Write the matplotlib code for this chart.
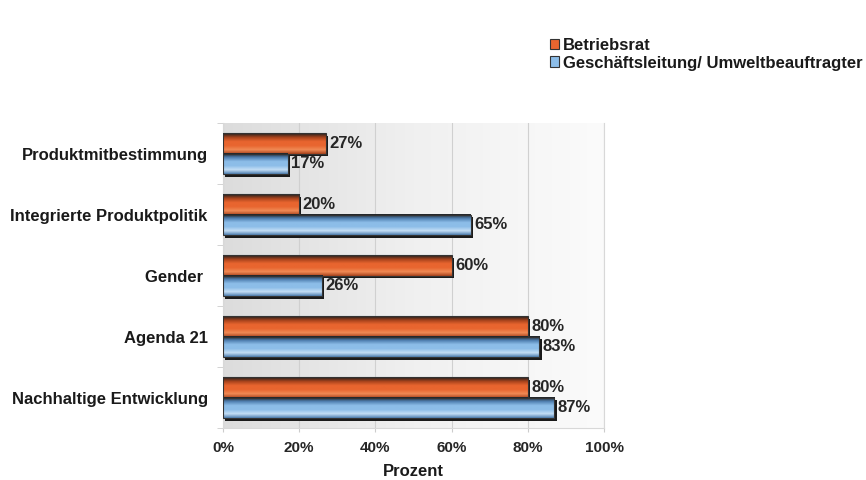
import numpy as np
import matplotlib.pyplot as plt
from matplotlib.patches import Patch
from matplotlib.colors import LinearSegmentedColormap

plt.rcParams['font.family'] = ['Liberation Sans', 'DejaVu Sans']
plt.rcParams['font.weight'] = 'bold'

categories = ['Produktmitbestimmung', 'Integrierte Produktpolitik', 'Gender ',
              'Agenda 21', 'Nachhaltige Entwicklung']
betriebsrat = [27, 20, 60, 80, 80]
geschaeftsleitung = [17, 65, 26, 83, 87]
series_names = ['Betriebsrat', 'Geschäftsleitung/ Umweltbeauftragter']
xticks = [0, 20, 40, 60, 80, 100]

orange = '#e8652f'
blue = '#8cbde8'

fig = plt.figure(figsize=(8.66, 4.8), dpi=100)
ax = fig.add_axes([0.2575, 0.1083, 0.44, 0.6354])

# grey-to-white background behind the bars
bg = LinearSegmentedColormap.from_list('bg', ['#dcdcdc', '#f0f0f0', '#fbfbfb'])
ax.imshow(np.linspace(0, 1, 256).reshape(1, -1), cmap=bg, aspect='auto',
          extent=[0, 100, 4.5, -0.5], zorder=0)

y = np.arange(len(categories))
h = 0.34
off = 0.17

# vertical shading across each bar for a rounded look
def shaded_bar(yc, val, base, dark, light):
    cm = LinearSegmentedColormap.from_list('b', [dark, light, base, base, dark, '#202020'])
    ax.barh(yc + 0.045, val, height=h, left=0.6, color='#1a1a1a', zorder=2)
    ax.imshow(np.linspace(0, 1, 64).reshape(-1, 1), cmap=cm, aspect='auto',
              extent=[0, val, yc - h / 2, yc + h / 2], zorder=3)
    ax.barh(yc, val, height=h, facecolor='none', edgecolor='#333333',
            linewidth=0.8, zorder=4)

for i in range(len(categories)):
    shaded_bar(y[i] - off, betriebsrat[i], orange, '#a8431c', '#f08a55')
    shaded_bar(y[i] + off, geschaeftsleitung[i], blue, '#4f7fb0', '#c4def5')
    ax.text(betriebsrat[i] + 0.9, y[i] - off, f'{betriebsrat[i]}%', va='center',
            ha='left', fontsize=12, fontweight='bold', color='#262626', zorder=5)
    ax.text(geschaeftsleitung[i] + 0.9, y[i] + off, f'{geschaeftsleitung[i]}%', va='center',
            ha='left', fontsize=12, fontweight='bold', color='#262626', zorder=5)

ax.set_xlim(0, 100)
ax.set_ylim(4.5, -0.5)
ax.set_xticks(xticks)
ax.set_xticklabels([f'{t}%' for t in xticks], fontsize=11, fontweight='bold', color='#262626')
ax.set_yticks(y)
ax.set_yticklabels(categories, fontsize=12, fontweight='bold', color='#1a1a1a')
ax.set_yticks(np.arange(-0.5, 5, 1), minor=True)
ax.tick_params(axis='y', which='major', length=0, pad=11)
ax.tick_params(axis='y', which='minor', length=4, color='#cccccc')
ax.tick_params(axis='x', length=3, color='#cccccc', pad=6)
ax.grid(axis='x', color='#d0d0d0', linewidth=0.8, zorder=1)
ax.set_axisbelow(True)
for s in ax.spines.values():
    s.set_visible(False)
for side in ('left', 'right', 'bottom'):
    ax.spines[side].set_visible(True)
    ax.spines[side].set_color('#d8d8d8')
ax.set_xlabel('Prozent', fontsize=12, fontweight='bold', labelpad=7, color='#1a1a1a')

handles = [Patch(facecolor=orange, edgecolor='#333333', linewidth=0.8),
           Patch(facecolor=blue, edgecolor='#333333', linewidth=0.8)]
fig.legend(handles, series_names, loc='upper left', bbox_to_anchor=(0.622, 0.945),
           frameon=False, handlelength=0.55, handleheight=0.6,
           handletextpad=0.2, labelspacing=0.15, borderpad=0.2,
           prop={'weight': 'bold', 'size': 12}, labelcolor='#1a1a1a')

fig.savefig('out.png', dpi=100)
